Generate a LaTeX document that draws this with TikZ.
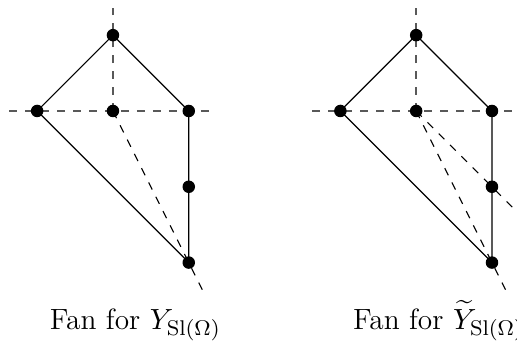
\documentclass[tikz,border=0pt]{standalone}
\usepackage{amsmath}
\begin{document}
\begin{tikzpicture}[x=1cm,y=1cm,
  dot/.style={circle,fill=black,inner sep=0pt,minimum size=0.165cm},
  axis/.style={dashed,draw=black!65,line width=0.6pt},
  ray/.style={dashed,draw=black,line width=0.4pt},
  edge/.style={draw=black,line width=0.45pt},
  lab/.style={anchor=base west,inner sep=0pt,font=\fontsize{11}{13}\selectfont}]
\clip (-1.49,-3.087) rectangle (5.33,1.464);
\useasboundingbox (-1.49,-3.087) rectangle (5.33,1.464);
\foreach \s/\o in {L/0,R/4}{
  \begin{scope}[xshift=\o cm]
    \coordinate (\s up) at (0,1.36);
    \coordinate (\s w) at (-1.37,0);
    \coordinate (\s e) at (1.37,0);
    \coordinate (\s d) at (1.18,-2.36);
    \draw[axis] (\s w) -- (\s e);
    \draw[axis] (0,0) -- (\s up);
    \node[dot] (\s c) at (0,0) {};
    \node[dot] (\s t) at (0,1) {};
    \node[dot] (\s l) at (-1,0) {};
    \node[dot] (\s r) at (1,0) {};
    \node[dot] (\s m) at (1,-1) {};
    \node[dot] (\s b) at (1,-2) {};
    \draw[ray] (\s c.center) -- (\s d);
    \draw[edge] (\s l.center) -- (\s t.center) -- (\s r.center) -- (\s m.center) -- (\s b.center) -- (\s l.center);
  \end{scope}
}
\coordinate (Rd2) at (5.6,-1.6);
\draw[ray] (Rc.center) -- (Rd2);
\node[lab] (Lt) at (-0.84,-2.88) {Fan for $Y_{\mathrm{Sl}(\Omega)}$};
\node[lab] (Rt) at (3.16,-2.88) {Fan for $\widetilde{Y}_{\mathrm{Sl}(\Omega)}$};
\end{tikzpicture}
\end{document}
